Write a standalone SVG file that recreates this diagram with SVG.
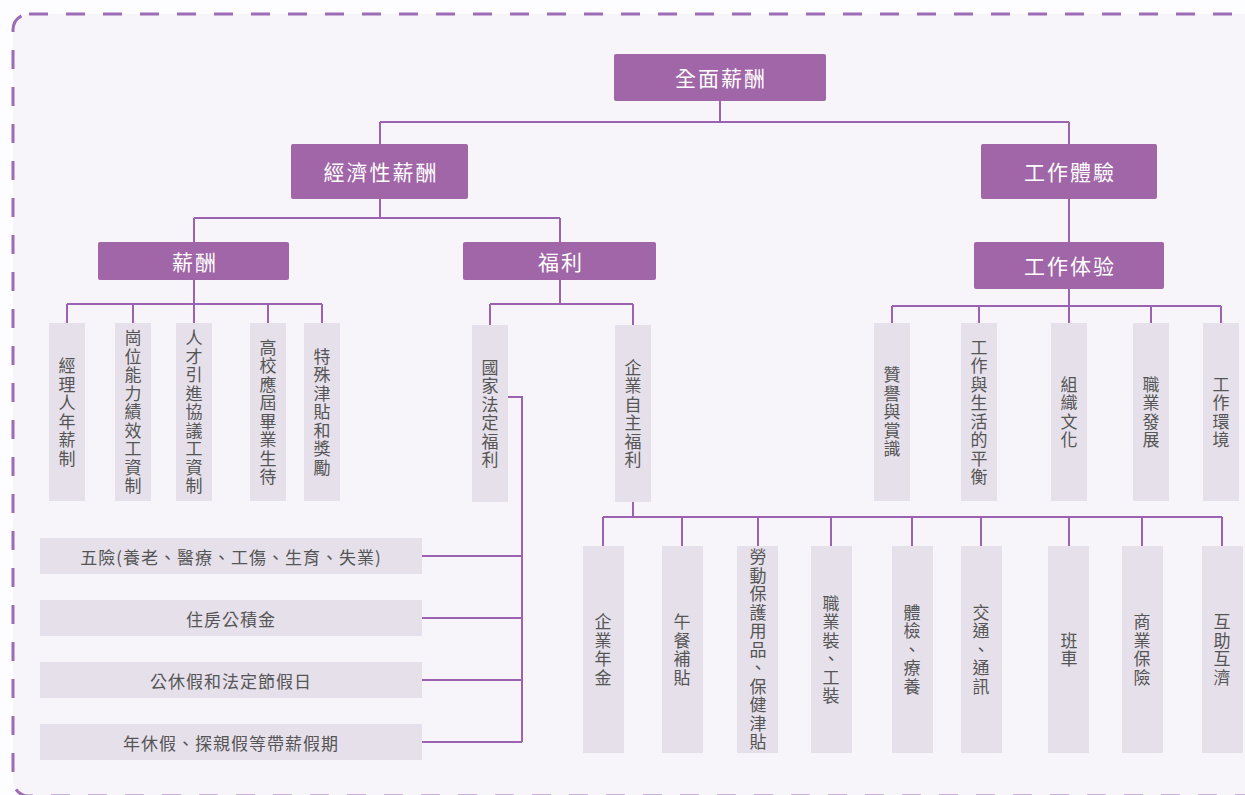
<svg xmlns="http://www.w3.org/2000/svg" width="1245" height="795" viewBox="0 0 1245 795">
<style>
text{font-family:"Noto Sans CJK TC","Noto Sans CJK SC",sans-serif;}
.frame{fill:#f7f5f9;stroke:#9d6cb6;stroke-width:3;stroke-dasharray:19 18;}
.hd{fill:#a066a8;}
.lb{fill:#e6e0eb;}
.ln{stroke:#9c62b2;stroke-width:2;fill:none;}
.ht{fill:#ffffff;font-size:21px;letter-spacing:2px;text-anchor:middle;dominant-baseline:central;}
.vt{fill:#555555;font-size:17px;text-anchor:middle;writing-mode:vertical-rl;}
.wt{fill:#555555;font-size:17px;letter-spacing:1px;text-anchor:middle;dominant-baseline:central;}
</style>
<rect x="0" y="0" width="1245" height="795" fill="#fdfcfe"/>
<rect class="frame" x="13" y="14" width="1262" height="782" rx="16"/>

<g id="connectors" class="ln">
<path d="M720 101V122M380 122H1069M380 122V144M1069 122V144"/>
<path d="M380 199V218M194 218H560M194 218V242M560 218V242"/>
<path d="M1069 199V242"/>
<path d="M194 280V304M67 304H322M67 304V323M133 304V323M194 304V323M268 304V323M322 304V323"/>
<path d="M560 280V304M490 304H633M490 304V325M633 304V325"/>
<path d="M1069 289V306M892 306H1221M892 306V323M979 306V323M1069 306V323M1151 306V323M1221 306V323"/>
<path d="M508 397H522V742M422 556H522M422 618H522M422 680H522M422 742H522"/>
<path d="M633 502V517M603 517H1222M603 517V546M682 517V546M758 517V546M831 517V546M912 517V546M981 517V546M1069 517V546M1142 517V546M1222 517V546"/>
</g>

<g id="n-total"><rect class="hd" x="614" y="54" width="212" height="47" rx="2"/><text class="ht" x="721" y="77">全面薪酬</text></g>
<g id="n-econ"><rect class="hd" x="291" y="144" width="177" height="55" rx="2"/><text class="ht" x="381" y="171">經濟性薪酬</text></g>
<g id="n-work"><rect class="hd" x="981" y="144" width="176" height="55" rx="2"/><text class="ht" x="1070" y="171">工作體驗</text></g>
<g id="n-salary"><rect class="hd" x="98" y="242" width="191" height="38" rx="2"/><text class="ht" x="195" y="261">薪酬</text></g>
<g id="n-welfare"><rect class="hd" x="463" y="242" width="193" height="38" rx="2"/><text class="ht" x="561" y="261">福利</text></g>
<g id="n-work2"><rect class="hd" x="974" y="242" width="190" height="47" rx="2"/><text class="ht" x="1070" y="265">工作体验</text></g>

<g id="s1"><rect class="lb" x="49" y="323" width="36" height="178"/><text class="vt"><tspan x="67" y="365.75">經</tspan><tspan x="67" y="384.25">理</tspan><tspan x="67" y="402.75">人</tspan><tspan x="67" y="421.25">年</tspan><tspan x="67" y="439.75">薪</tspan><tspan x="67" y="458.25">制</tspan></text></g>
<g id="s2"><rect class="lb" x="115" y="323" width="36" height="178"/><text class="vt"><tspan x="133" y="338">崗</tspan><tspan x="133" y="356.5">位</tspan><tspan x="133" y="375">能</tspan><tspan x="133" y="393.5">力</tspan><tspan x="133" y="412">績</tspan><tspan x="133" y="430.5">效</tspan><tspan x="133" y="449">工</tspan><tspan x="133" y="467.5">資</tspan><tspan x="133" y="486">制</tspan></text></g>
<g id="s3"><rect class="lb" x="176" y="323" width="36" height="178"/><text class="vt"><tspan x="194" y="338">人</tspan><tspan x="194" y="356.5">才</tspan><tspan x="194" y="375">引</tspan><tspan x="194" y="393.5">進</tspan><tspan x="194" y="412">協</tspan><tspan x="194" y="430.5">議</tspan><tspan x="194" y="449">工</tspan><tspan x="194" y="467.5">資</tspan><tspan x="194" y="486">制</tspan></text></g>
<g id="s4"><rect class="lb" x="250" y="323" width="36" height="178"/><text class="vt"><tspan x="268" y="347.25">高</tspan><tspan x="268" y="365.75">校</tspan><tspan x="268" y="384.25">應</tspan><tspan x="268" y="402.75">屆</tspan><tspan x="268" y="421.25">畢</tspan><tspan x="268" y="439.75">業</tspan><tspan x="268" y="458.25">生</tspan><tspan x="268" y="476.75">待</tspan></text></g>
<g id="s5"><rect class="lb" x="304" y="323" width="36" height="178"/><text class="vt"><tspan x="322" y="356.5">特</tspan><tspan x="322" y="375">殊</tspan><tspan x="322" y="393.5">津</tspan><tspan x="322" y="412">貼</tspan><tspan x="322" y="430.5">和</tspan><tspan x="322" y="449">獎</tspan><tspan x="322" y="467.5">勵</tspan></text></g>

<g id="w1"><rect class="lb" x="472" y="325" width="36" height="177"/><text class="vt"><tspan x="490" y="367.25">國</tspan><tspan x="490" y="385.75">家</tspan><tspan x="490" y="404.25">法</tspan><tspan x="490" y="422.75">定</tspan><tspan x="490" y="441.25">福</tspan><tspan x="490" y="459.75">利</tspan></text></g>
<g id="w2"><rect class="lb" x="615" y="325" width="36" height="177"/><text class="vt"><tspan x="633" y="367.25">企</tspan><tspan x="633" y="385.75">業</tspan><tspan x="633" y="404.25">自</tspan><tspan x="633" y="422.75">主</tspan><tspan x="633" y="441.25">福</tspan><tspan x="633" y="459.75">利</tspan></text></g>

<g id="e1"><rect class="lb" x="874" y="323" width="36" height="178"/><text class="vt"><tspan x="892" y="375">贊</tspan><tspan x="892" y="393.5">譽</tspan><tspan x="892" y="412">與</tspan><tspan x="892" y="430.5">賞</tspan><tspan x="892" y="449">識</tspan></text></g>
<g id="e2"><rect class="lb" x="961" y="323" width="36" height="178"/><text class="vt"><tspan x="979" y="347.25">工</tspan><tspan x="979" y="365.75">作</tspan><tspan x="979" y="384.25">與</tspan><tspan x="979" y="402.75">生</tspan><tspan x="979" y="421.25">活</tspan><tspan x="979" y="439.75">的</tspan><tspan x="979" y="458.25">平</tspan><tspan x="979" y="476.75">衡</tspan></text></g>
<g id="e3"><rect class="lb" x="1051" y="323" width="36" height="178"/><text class="vt"><tspan x="1069" y="384.25">組</tspan><tspan x="1069" y="402.75">織</tspan><tspan x="1069" y="421.25">文</tspan><tspan x="1069" y="439.75">化</tspan></text></g>
<g id="e4"><rect class="lb" x="1133" y="323" width="36" height="178"/><text class="vt"><tspan x="1151" y="384.25">職</tspan><tspan x="1151" y="402.75">業</tspan><tspan x="1151" y="421.25">發</tspan><tspan x="1151" y="439.75">展</tspan></text></g>
<g id="e5"><rect class="lb" x="1203" y="323" width="36" height="178"/><text class="vt"><tspan x="1221" y="384.25">工</tspan><tspan x="1221" y="402.75">作</tspan><tspan x="1221" y="421.25">環</tspan><tspan x="1221" y="439.75">境</tspan></text></g>

<g id="l1"><rect class="lb" x="40" y="538" width="382" height="36"/><text class="wt" x="231" y="556">五險(養老、醫療、工傷、生育、失業)</text></g>
<g id="l2"><rect class="lb" x="40" y="600" width="382" height="36"/><text class="wt" x="231" y="618">住房公積金</text></g>
<g id="l3"><rect class="lb" x="40" y="662" width="382" height="36"/><text class="wt" x="231" y="680">公休假和法定節假日</text></g>
<g id="l4"><rect class="lb" x="40" y="724" width="382" height="36"/><text class="wt" x="231" y="742">年休假、探親假等帶薪假期</text></g>

<g id="b1"><rect class="lb" x="583" y="546" width="41" height="207"/><text class="vt"><tspan x="603" y="621.75">企</tspan><tspan x="603" y="640.25">業</tspan><tspan x="603" y="658.75">年</tspan><tspan x="603" y="677.25">金</tspan></text></g>
<g id="b2"><rect class="lb" x="662" y="546" width="41" height="207"/><text class="vt"><tspan x="682" y="621.75">午</tspan><tspan x="682" y="640.25">餐</tspan><tspan x="682" y="658.75">補</tspan><tspan x="682" y="677.25">貼</tspan></text></g>
<g id="b3"><rect class="lb" x="737" y="546" width="41" height="207"/><text class="vt"><tspan x="758" y="557">勞</tspan><tspan x="758" y="575.5">動</tspan><tspan x="758" y="594">保</tspan><tspan x="758" y="612.5">護</tspan><tspan x="758" y="631">用</tspan><tspan x="758" y="649.5">品</tspan><tspan x="758" y="668">、</tspan><tspan x="758" y="686.5">保</tspan><tspan x="758" y="705">健</tspan><tspan x="758" y="723.5">津</tspan><tspan x="758" y="742">貼</tspan></text></g>
<g id="b4"><rect class="lb" x="811" y="546" width="41" height="207"/><text class="vt"><tspan x="831" y="603.25">職</tspan><tspan x="831" y="621.75">業</tspan><tspan x="831" y="640.25">裝</tspan><tspan x="831" y="658.75">、</tspan><tspan x="831" y="677.25">工</tspan><tspan x="831" y="695.75">裝</tspan></text></g>
<g id="b5"><rect class="lb" x="892" y="546" width="41" height="207"/><text class="vt"><tspan x="912" y="612.5">體</tspan><tspan x="912" y="631">檢</tspan><tspan x="912" y="649.5">、</tspan><tspan x="912" y="668">療</tspan><tspan x="912" y="686.5">養</tspan></text></g>
<g id="b6"><rect class="lb" x="961" y="546" width="41" height="207"/><text class="vt"><tspan x="981" y="612.5">交</tspan><tspan x="981" y="631">通</tspan><tspan x="981" y="649.5">、</tspan><tspan x="981" y="668">通</tspan><tspan x="981" y="686.5">訊</tspan></text></g>
<g id="b7"><rect class="lb" x="1048" y="546" width="41" height="207"/><text class="vt"><tspan x="1069" y="640.25">班</tspan><tspan x="1069" y="658.75">車</tspan></text></g>
<g id="b8"><rect class="lb" x="1122" y="546" width="41" height="207"/><text class="vt"><tspan x="1142" y="621.75">商</tspan><tspan x="1142" y="640.25">業</tspan><tspan x="1142" y="658.75">保</tspan><tspan x="1142" y="677.25">險</tspan></text></g>
<g id="b9"><rect class="lb" x="1202" y="546" width="41" height="207"/><text class="vt"><tspan x="1222" y="621.75">互</tspan><tspan x="1222" y="640.25">助</tspan><tspan x="1222" y="658.75">互</tspan><tspan x="1222" y="677.25">濟</tspan></text></g>
</svg>
